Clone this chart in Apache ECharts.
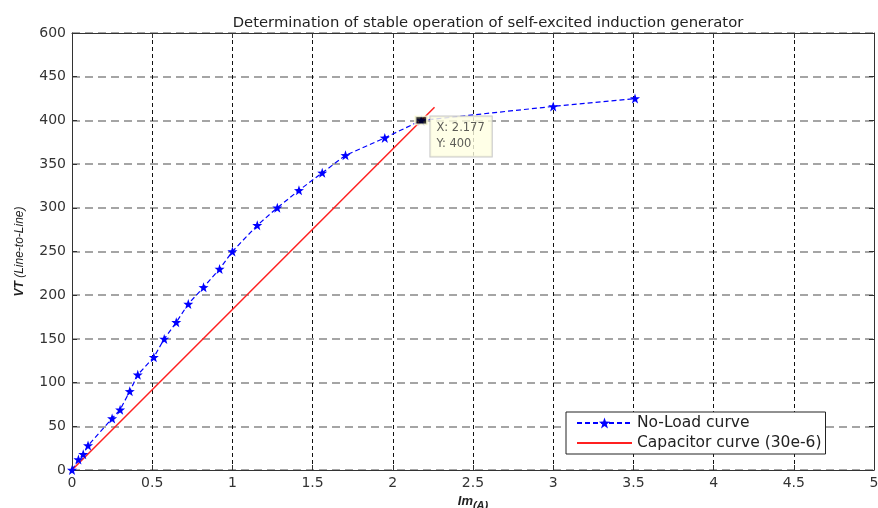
<!DOCTYPE html>
<html><head><meta charset="utf-8">
<script src="https://cdn.jsdelivr.net/npm/echarts@6/dist/echarts.min.js"></script>
<style>html,body{margin:0;padding:0;background:#fff}#c{width:878px;height:508px}</style>
</head><body><div id="c"></div>
<script>
const titleText = 'Determination of stable operation of self-excited induction generator';
const noLoadIm = [0, 0.04, 0.07, 0.1, 0.25, 0.3, 0.36, 0.41, 0.51, 0.575, 0.65, 0.725, 0.82, 0.92, 1.0, 1.155, 1.28, 1.415, 1.56, 1.705, 1.95, 2.177, 3.0, 3.51];
const noLoadVT = [0, 12, 18, 28, 59, 69, 90, 109, 129, 150, 169, 190, 209, 230, 250, 280, 300, 320, 340, 360, 380, 400, 416, 425];
const capIm = [0, 2.26];
const capVT = [0, 415];
const tipPoint = [2.177, 400];
const xTicks = [0, 0.5, 1, 1.5, 2, 2.5, 3, 3.5, 4, 4.5, 5];
const yTickValues = [0, 50, 100, 150, 200, 250, 300, 350, 400, 450, 500];
const yTickLabels = ['0', '50', '100', '150', '200', '250', '300', '350', '400', '450', '600'];

const chart = echarts.init(document.getElementById('c'));
const font = 'Liberation Sans, Arial, sans-serif';
const wide = 'DejaVu Sans, sans-serif';
const zip = (a, b) => a.map((v, i) => [v, b[i]]);
const yLabel = v => { const i = yTickValues.indexOf(v); return i >= 0 ? yTickLabels[i] : ''; };

chart.setOption({
  animation: false,
  backgroundColor: '#fff',
  title: {
    text: titleText, left: 483, top: 11, textAlign: 'center',
    textStyle: { fontFamily: wide, fontSize: 14.8, fontWeight: 'normal', color: '#222' }
  },
  grid: { left: 72, right: 4, top: 33, bottom: 38, show: false, outerBoundsMode: 'none', containLabel: false },
  legend: {
    orient: 'vertical', left: 566, top: 412,
    backgroundColor: '#fff', borderColor: '#222', borderWidth: 1,
    padding: [3, 4, 3, 10], itemGap: 4, itemWidth: 55, itemHeight: 14,
    textStyle: { fontFamily: wide, fontSize: 15.5, color: '#222' },
    data: ['No-Load curve', { name: 'Capacitor curve (30e-6)', itemStyle: { opacity: 0 } }]
  },
  xAxis: [{
    type: 'value', min: 0, max: 5, interval: 0.5,
    name: '{m|Im}{s|(A)}', nameLocation: 'middle', nameGap: 20,
    nameTextStyle: { rich: {
      m: { fontFamily: font, fontSize: 13, fontWeight: 'bold', fontStyle: 'italic', color: '#222' },
      s: { fontFamily: font, fontSize: 11, fontWeight: 'bold', fontStyle: 'italic', color: '#222', padding: [9, 0, 0, 0] }
    } },
    axisLine: { show: true, onZero: false, lineStyle: { color: '#333', width: 1 } },
    axisTick: { show: true, inside: true, length: 5, lineStyle: { color: '#333' } },
    axisLabel: { fontFamily: wide, fontSize: 14, color: '#333', margin: 6,
      formatter: v => xTicks.indexOf(v) >= 0 ? String(v) : '' },
    splitLine: { show: true, lineStyle: { color: '#111', type: [4, 3], width: 1 } }
  }, {
    type: 'value', min: 0, max: 5, interval: 0.5, position: 'top',
    axisLine: { show: true, onZero: false, lineStyle: { color: '#333', width: 1 } },
    axisTick: { show: true, inside: true, length: 5, lineStyle: { color: '#333' } },
    axisLabel: { show: false }, splitLine: { show: false }
  }],
  yAxis: [{
    type: 'value', min: 0, max: 500, interval: 50,
    name: '{b|VT }{i|(Line-to-Line)}', nameLocation: 'middle', nameGap: 46,
    nameTextStyle: { rich: {
      b: { fontFamily: font, fontSize: 12, fontStyle: 'italic', fontWeight: 'bold', color: '#222' },
      i: { fontFamily: font, fontSize: 12, fontStyle: 'italic', color: '#222' }
    } },
    axisLine: { show: true, onZero: false, lineStyle: { color: '#333', width: 1 } },
    axisTick: { show: true, inside: true, length: 5, lineStyle: { color: '#333' } },
    axisLabel: { fontFamily: wide, fontSize: 14, color: '#333', margin: 6, formatter: yLabel },
    splitLine: { show: true, lineStyle: { color: '#888', type: [8, 5], width: 1.5 } }
  }, {
    type: 'value', min: 0, max: 500, interval: 50, position: 'right',
    axisLine: { show: true, onZero: false, lineStyle: { color: '#333', width: 1 } },
    axisTick: { show: true, inside: true, length: 5, lineStyle: { color: '#333' } },
    axisLabel: { show: false }, splitLine: { show: false }
  }],
  series: [{
    name: 'No-Load curve', type: 'line', data: zip(noLoadIm, noLoadVT),
    symbol: 'path://M0,-10 L2.35,-3.24 L9.51,-3.09 L3.8,1.24 L5.88,8.09 L0,4 L-5.88,8.09 L-3.8,1.24 L-9.51,-3.09 L-2.35,-3.24 Z',
    symbolSize: 10, showSymbol: true,
    itemStyle: { color: '#0000ff' },
    lineStyle: { color: '#0000ff', width: 1.2, type: [5, 3] },
    z: 3
  }, {
    name: 'Capacitor curve (30e-6)', type: 'line', data: zip(capIm, capVT),
    symbol: 'none', showSymbol: false,
    itemStyle: { color: '#ff0000' },
    lineStyle: { color: '#ff2020', width: 1.5 },
    z: 2
  }, {
    name: 'tip', type: 'scatter', data: [tipPoint],
    symbol: 'rect', symbolSize: [12, 8],
    itemStyle: { color: '#000', borderColor: '#ffffe0', borderWidth: 2 },
    label: {
      show: true, position: 'right', distance: 0, offset: [2, 16],
      formatter: 'X: 2.177\nY: 400',
      fontFamily: wide, fontSize: 11.5, color: '#333', lineHeight: 16,
      backgroundColor: '#ffffe1', borderColor: '#bbb', borderWidth: 1,
      padding: [5, 7, 3, 6], align: 'left'
    },
    z: 5
  }]
});
</script></body></html>
